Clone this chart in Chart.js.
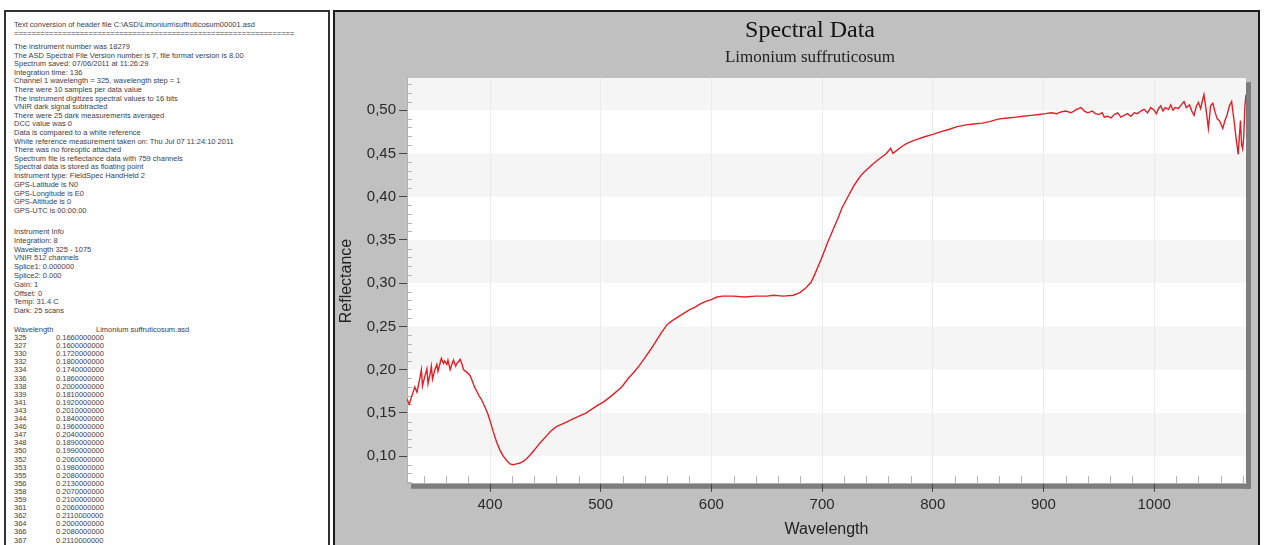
<!DOCTYPE html>
<html>
<head>
<meta charset="utf-8">
<script src="https://cdn.jsdelivr.net/npm/chart.js@4.4.1/dist/chart.umd.min.js"></script>
<style>
  html, body { margin: 0; padding: 0; background: #fff; width: 1264px; height: 545px; overflow: hidden; }
  #log { position: absolute; left: 4px; top: 10px; width: 322px; height: 545px; border: 2px solid #333; background: #fff; overflow: hidden; }
  #log div { position: absolute; white-space: pre; font: 7.5px "Liberation Sans", sans-serif; color: #3e3e48; }
  #panel { position: absolute; left: 333px; top: 10px; width: 923px; height: 540px; border: 2px solid #1a1a1a; background: #c0c0c0; overflow: hidden; }
  #panel canvas { position: absolute; left: 0; top: 0; }
</style>
</head>
<body>
<div id="log"></div>
<div id="panel"><canvas id="chart" width="950" height="533"></canvas></div>
<script>
const titleText = 'Spectral Data';
const subtitleText = 'Limonium suffruticosum';
const xTitle = 'Wavelength';
const yTitle = 'Reflectance';

const wavelengths = [325,327,330,332,334,336,338,339,341,343,344,346,347,348,350,352,353,355,356,358,359,361,362,364,366,367,369,370,372,373,375,376,378,380,382,384,386,388,390,392,395,398,400,403,406,409,412,415,418,421,424,427,430,433,436,440,445,450,455,460,465,470,475,480,487,495,503,510,519,525,530,535,540,545,550,555,560,565,570,575,580,585,590,595,600,605,610,620,630,640,650,656,665,674,680,685,690,693,696,699,702,705,710,714,718,723,728,732,736,741,747,753,758,762,764,767,772,777,785,792,800,807,815,822,830,837,845,852,860,868,875,882,889,896,902,907,912,916,920,925,930,934,937,940,944,947,950,953,955,958,961,964,967,970,973,976,979,982,985,988,991,994,997,1000,1002,1004,1006,1008,1010,1013,1015,1017,1019,1022,1025,1027,1029,1032,1034,1036,1038,1040,1042,1044,1045,1047,1049,1051,1053,1055,1057,1059,1062,1064,1066,1068,1070,1072,1074,1076,1077,1078,1079,1080,1081,1082,1083];

const reflectance = [0.166,0.160,0.172,0.180,0.174,0.186,0.200,0.181,0.192,0.201,0.184,0.196,0.204,0.189,0.199,0.206,0.198,0.208,0.213,0.207,0.210,0.206,0.211,0.200,0.208,0.211,0.204,0.207,0.210,0.212,0.205,0.200,0.198,0.196,0.193,0.187,0.180,0.175,0.170,0.166,0.158,0.149,0.141,0.128,0.116,0.107,0.100,0.095,0.091,0.090,0.091,0.092,0.094,0.097,0.101,0.107,0.115,0.122,0.129,0.134,0.137,0.140,0.143,0.146,0.150,0.157,0.163,0.170,0.180,0.190,0.197,0.205,0.214,0.223,0.233,0.243,0.252,0.257,0.261,0.265,0.269,0.272,0.276,0.279,0.281,0.284,0.285,0.285,0.284,0.285,0.285,0.286,0.285,0.286,0.289,0.294,0.301,0.309,0.318,0.327,0.337,0.347,0.362,0.374,0.387,0.399,0.411,0.419,0.426,0.432,0.439,0.445,0.450,0.456,0.450,0.453,0.458,0.462,0.466,0.469,0.472,0.475,0.478,0.481,0.483,0.484,0.485,0.487,0.490,0.491,0.492,0.493,0.494,0.495,0.496,0.497,0.496,0.498,0.499,0.497,0.501,0.503,0.499,0.497,0.499,0.496,0.495,0.497,0.492,0.493,0.491,0.495,0.497,0.492,0.494,0.496,0.493,0.497,0.496,0.499,0.501,0.497,0.503,0.500,0.496,0.502,0.505,0.499,0.503,0.501,0.506,0.500,0.503,0.502,0.507,0.510,0.503,0.506,0.499,0.494,0.504,0.509,0.502,0.513,0.518,0.500,0.479,0.505,0.508,0.498,0.490,0.488,0.479,0.488,0.495,0.505,0.510,0.490,0.468,0.449,0.470,0.488,0.460,0.455,0.470,0.505,0.518];

const xTickValues = [400, 500, 600, 700, 800, 900, 1000];
const yTickValues = [0.10, 0.15, 0.20, 0.25, 0.30, 0.35, 0.40, 0.45, 0.50];
const bandRanges = [[0.10, 0.15], [0.20, 0.25], [0.30, 0.35], [0.40, 0.45], [0.50, 0.55]];

// text file shown next to the chart
const headerLines = [
    'Text conversion of header file C:\\ASD\\Limonium\\suffruticosum00001.asd',
    '================================================================'
];
const infoLines = [
    'The instrument number was 18279',
    'The ASD Spectral File Version number is 7, file format version is 8.00',
    'Spectrum saved: 07/06/2011 at 11:26:29',
    'Integration time: 136',
    'Channel 1 wavelength = 325, wavelength step = 1',
    'There were 10 samples per data value',
    'The instrument digitizes spectral values to 16 bits',
    'VNIR dark signal subtracted',
    'There were 25 dark measurements averaged',
    'DCC value was 0',
    'Data is compared to a white reference',
    'White reference measurement taken on: Thu Jul 07 11:24:10 2011',
    'There was no foreoptic attached',
    'Spectrum file is reflectance data with 759 channels',
    'Spectral data is stored as floating point',
    'Instrument type: FieldSpec HandHeld 2'
];
const gpsLines = [
    'GPS-Latitude is N0',
    'GPS-Longitude is E0',
    'GPS-Altitude is 0',
    'GPS-UTC is 00:00:00'
];
const instrumentLines = [
    'Instrument Info',
    'Integration: 8',
    'Wavelength 325 - 1075',
    'VNIR 512 channels',
    'Splice1: 0.000000',
    'Splice2: 0.000',
    'Gain: 1',
    'Offset: 0',
    'Temp: 31.4 C',
    'Dark: 25 scans'
];

function addLines(lines, firstCenter, step, left) {
    const box = document.getElementById('log');
    lines.forEach((t, i) => {
        const d = document.createElement('div');
        d.textContent = t;
        d.style.left = (left || 8) + 'px';
        d.style.top = (firstCenter + i * step - 12 - 5) + 'px';
        box.appendChild(d);
    });
}

addLines(headerLines, 25, 9);
addLines(infoLines, 47, 8.6);
addLines(gpsLines, 185, 8.6);
addLines(instrumentLines, 232, 8.8);
addLines(['Wavelength'], 330, 8);
addLines(['Limonium suffruticosum.asd'], 330, 8, 90);
addLines(wavelengths.slice(0, 26).map(String), 338, 8.1);
addLines(reflectance.slice(0, 26).map(v => v.toFixed(10)), 338, 8.1, 50);

const plotBackground = {
    id: 'plotBackground',
    beforeDraw(chart) {
        const { ctx, chartArea: a } = chart;
        const y = chart.scales.y;
        ctx.save();
        ctx.fillStyle = '#7d7d7d';
        ctx.fillRect(a.left + 4, a.bottom, a.width, 5);
        ctx.fillRect(a.right, a.top + 4, 5, a.height + 1);
        ctx.fillStyle = '#ffffff';
        ctx.fillRect(a.left, a.top, a.width, a.height);
        ctx.fillStyle = '#f5f5f5';
        bandRanges.forEach(([lo, hi]) => {
            const top = Math.max(y.getPixelForValue(hi), a.top);
            const bot = Math.min(y.getPixelForValue(lo), a.bottom);
            if (bot > top) ctx.fillRect(a.left, top, a.width, bot - top);
        });
        ctx.restore();
    },
    beforeDatasetsDraw(chart) {
        // small inner ticks along the bottom and left edges
        const { ctx, chartArea: a, scales: { x, y } } = chart;
        ctx.save();
        ctx.strokeStyle = '#b4b4b4';
        ctx.lineWidth = 1;
        ctx.beginPath();
        for (let w = 340; w <= 1080; w += 20) {
            if (w % 100 === 0) continue;
            const px = Math.round(x.getPixelForValue(w)) + 0.5;
            ctx.moveTo(px, a.bottom);
            ctx.lineTo(px, a.bottom - 8);
        }
        for (let k = 7; k <= 53; k++) {
            if (k % 5 === 0) continue;
            const py = Math.round(y.getPixelForValue(k / 100)) + 0.5;
            ctx.moveTo(a.left, py);
            ctx.lineTo(a.left + 5, py);
        }
        ctx.stroke();
        ctx.restore();
    }
};

const labelFont = { family: 'Liberation Sans', size: 15 };

new Chart(document.getElementById('chart'), {
    type: 'line',
    data: {
        datasets: [{
            data: wavelengths.map((w, i) => ({ x: w, y: reflectance[i] })),
            borderColor: '#e02028',
            borderWidth: 1.4,
            pointRadius: 0,
            tension: 0,
            fill: false
        }]
    },
    options: {
        responsive: false,
        animation: false,
        devicePixelRatio: 1,
        layout: { padding: { left: 0, right: 0, top: 0, bottom: 6 } },
        plugins: {
            legend: { display: false },
            tooltip: { enabled: false },
            title: {
                display: true,
                text: titleText,
                color: '#111',
                font: { family: 'Liberation Serif', size: 24, weight: 'normal' },
                padding: { top: 4, bottom: 0 }
            },
            subtitle: {
                display: true,
                text: subtitleText,
                color: '#222',
                font: { family: 'Liberation Serif', size: 17 },
                padding: { top: 3, bottom: 10 }
            }
        },
        scales: {
            x: {
                type: 'linear',
                min: 325,
                max: 1083,
                afterBuildTicks: axis => { axis.ticks = xTickValues.map(v => ({ value: v })); },
                grid: { color: '#ececec', tickColor: '#444', tickLength: 8 },
                border: { color: '#b0b0b0' },
                ticks: { color: '#2a2a2a', font: labelFont, padding: 4, maxRotation: 0, callback: v => String(v) },
                title: { display: true, text: xTitle, color: '#222', font: { family: 'Liberation Sans', size: 16 }, padding: { top: 2, bottom: 0 } }
            },
            y: {
                min: 0.068,
                max: 0.537,
                afterBuildTicks: axis => { axis.ticks = yTickValues.map(v => ({ value: v })); },
                afterFit: axis => { axis.width = 72; },
                grid: { drawOnChartArea: false, tickColor: '#444', tickLength: 8 },
                border: { color: '#b0b0b0' },
                ticks: { color: '#2a2a2a', font: labelFont, padding: 3, callback: v => v.toFixed(2).replace('.', ',') },
                title: { display: true, text: yTitle, color: '#222', font: { family: 'Liberation Sans', size: 16 }, padding: { top: 2, bottom: 0 } }
            },
            y2: {
                position: 'right',
                display: true,
                afterFit: axis => { axis.width = 39; },
                grid: { display: false },
                border: { display: false },
                ticks: { display: false }
            }
        }
    },
    plugins: [plotBackground]
});
</script>
</body>
</html>
